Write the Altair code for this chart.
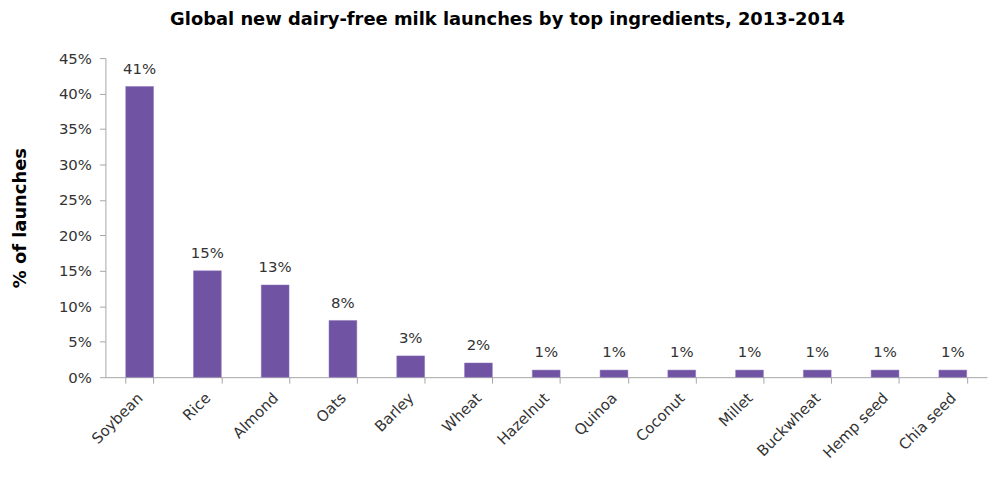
import altair as alt
import pandas as pd

categories = ["Soybean", "Rice", "Almond", "Oats", "Barley", "Wheat", "Hazelnut",
              "Quinoa", "Coconut", "Millet", "Buckwheat", "Hemp seed", "Chia seed"]
values = [41, 15, 13, 8, 3, 2, 1, 1, 1, 1, 1, 1, 1]
y_ticks = [0, 5, 10, 15, 20, 25, 30, 35, 40, 45]

df = pd.DataFrame({"ingredient": categories, "share": [v / 100 for v in values],
                   "label": [f"{v}%" for v in values]})

FONT = "DejaVu Sans"
PURPLE = "#7153A3"
GRAY = "#A6A6A6"

x = alt.X("ingredient:N", sort=categories, title=None,
          scale=alt.Scale(paddingInner=0.59, paddingOuter=0.3),
          axis=alt.Axis(labelAngle=-45, labelAlign="right", labelBaseline="middle",
                        labelFont=FONT, labelFontSize=15, labelColor="#333333",
                        labelPadding=12, tickBand="extent", tickSize=6,
                        tickColor=GRAY, domainColor=GRAY))
y = alt.Y("share:Q", title="% of launches",
          scale=alt.Scale(domain=[0, 0.45], nice=False),
          axis=alt.Axis(values=[t / 100 for t in y_ticks], format=".0%",
                        labelFont=FONT, labelFontSize=15, labelColor="#333333",
                        tickSize=6, tickColor=GRAY, domainColor=GRAY, grid=False,
                        labelPadding=8,
                        titleFont=FONT, titleFontSize=18, titleFontWeight="bold",
                        titleColor="#000000", titlePadding=29))

base = alt.Chart(df).encode(x=x, y=y)
bars = base.mark_bar(color=PURPLE, stroke="#8a74b8", strokeWidth=0.5)
text = base.mark_text(dy=-18, font=FONT, fontSize=15, color="#333333").encode(text="label:N")

chart = (bars + text).properties(
    width=887, height=321,
    autosize=alt.AutoSizeParams(type="none"),
    padding={"left": 98, "top": 49, "right": 5, "bottom": 100},
    title=alt.TitleParams("Global new dairy-free milk launches by top ingredients, 2013-2014",
                          font=FONT, fontSize=18, fontWeight="bold", color="#000000",
                          anchor="middle", dx=-39, offset=22),
).configure_view(stroke=None)

chart.save("out.html", embed_options={"renderer": "svg", "actions": False})
